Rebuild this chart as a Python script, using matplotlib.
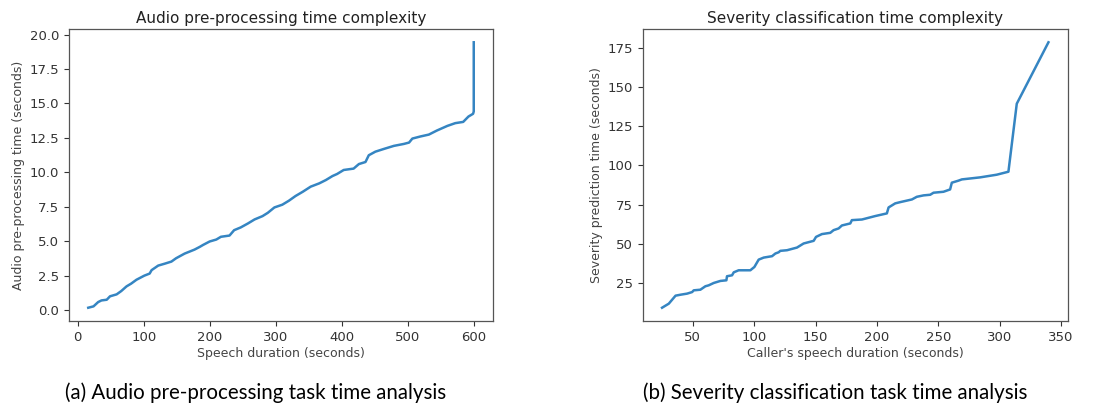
import matplotlib
matplotlib.use("Agg")
import matplotlib.pyplot as plt

# Audio pre-processing: speech duration vs processing time
audio_duration = [16, 24, 31, 36, 44, 49, 59, 66, 74, 81, 89, 101, 109, 112, 122,
                  132, 142, 149, 162, 177, 185, 190, 200, 210, 217, 230, 237, 247,
                  258, 268, 280, 288, 298, 310, 320, 330, 341, 353, 366, 376, 386,
                  393, 403, 418, 426, 436, 441, 451, 464, 479, 494, 502, 507, 519,
                  532, 544, 560, 572, 584, 592, 599, 600, 600]
audio_time = [0.17, 0.27, 0.58, 0.70, 0.75, 1.00, 1.14, 1.38, 1.72, 1.92, 2.20,
              2.50, 2.65, 2.90, 3.23, 3.37, 3.52, 3.76, 4.10, 4.39, 4.59, 4.73,
              4.98, 5.12, 5.32, 5.41, 5.80, 6.00, 6.29, 6.58, 6.82, 7.06, 7.45,
              7.65, 7.94, 8.28, 8.59, 8.96, 9.20, 9.44, 9.73, 9.88, 10.17, 10.27,
              10.60, 10.75, 11.24, 11.50, 11.70, 11.92, 12.06, 12.16, 12.45,
              12.60, 12.74, 13.03, 13.37, 13.57, 13.66, 14.05, 14.25, 14.42, 19.44]

# Severity classification: caller speech duration vs prediction time
caller_duration = [25, 30.5, 36, 40, 45.4, 49.5, 50.8, 56.2, 60.3, 63, 67.1, 72.5,
                   77.4, 77.9, 82, 83.4, 87.4, 96.9, 100.2, 103.7, 107.8, 114.6,
                   117.3, 120, 121.3, 126.8, 134.9, 140.3, 148.5, 150.4, 155.2,
                   162, 164.7, 168.8, 171.5, 178.3, 179.6, 187.8, 198.6, 208.1,
                   209.5, 214.9, 219, 228.5, 232.5, 238, 243.4, 246.1, 254.2,
                   259.6, 261, 266.4, 269.2, 284.1, 297.6, 307.1, 313.9, 339.7]
severity_time = [9.2, 11.8, 16.9, 17.5, 18.2, 19.2, 20.3, 20.7, 22.9, 23.5, 25.0,
                 26.3, 26.7, 29.3, 29.9, 31.8, 33.1, 33.1, 35.2, 39.9, 41.2, 42.1,
                 43.8, 44.6, 45.5, 45.9, 47.6, 50.2, 51.9, 54.4, 56.2, 57.0, 58.7,
                 59.8, 61.7, 63.0, 65.1, 65.5, 67.7, 69.4, 73.2, 75.8, 76.6, 78.3,
                 80.0, 80.9, 81.3, 82.6, 83.2, 84.7, 89.0, 90.3, 91.1, 92.4, 94.1,
                 96.0, 139.4, 178.6]

line_color = "#3585c2"
tick_color = "#333333"

fig = plt.figure(figsize=(11, 4.07), dpi=100)
ax1 = fig.add_axes([0.0627, 0.2113, 0.3855, 0.7174])
ax2 = fig.add_axes([0.5843, 0.2113, 0.3864, 0.7174])

panels = [
    (ax1, audio_duration, audio_time, "Audio pre-processing time complexity",
     "Speech duration (seconds)", "Audio pre-processing time (seconds)"),
    (ax2, caller_duration, severity_time, "Severity classification time complexity",
     "Caller's speech duration (seconds)", "Severity prediction time (seconds)"),
]

for ax, x, y, title, xlabel, ylabel in panels:
    ax.plot(x, y, color=line_color, linewidth=1.8)
    ax.set_title(title, fontsize=11, color="#222222", pad=4)
    ax.set_xlabel(xlabel, fontsize=9, color="#444444", labelpad=2)
    ax.set_ylabel(ylabel, fontsize=9, color="#444444", labelpad=3)
    ax.tick_params(labelsize=9.5, colors=tick_color, length=3.5)
    for s in ax.spines.values():
        s.set_color("#555555")
        s.set_linewidth(0.9)

ax2.set_yticks([25, 50, 75, 100, 125, 150, 175])

fig.text(0.232, 0.035, "(a) Audio pre-processing task time analysis",
         ha="center", va="center", fontsize=14.8, family="Lato")
fig.text(0.759, 0.035, "(b) Severity classification task time analysis",
         ha="center", va="center", fontsize=14.8, family="Lato")

fig.savefig("out.png", dpi=100)
